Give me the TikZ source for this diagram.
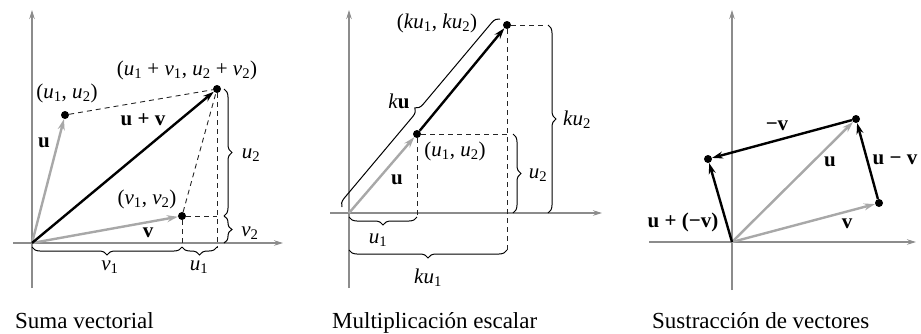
\documentclass[tikz,border=0pt]{standalone}
\usepackage{fontspec}
\setmainfont{Liberation Serif}
\usetikzlibrary{arrows.meta,decorations.pathreplacing}
\definecolor{axisgray}{RGB}{140,140,140}
\definecolor{vecgray}{RGB}{168,168,168}
\newcommand\su[2]{\textit{#1}\textsubscript{#2}}
\tikzset{
  axis/.style={draw=axisgray,line width=1.1pt,-{Stealth[length=9pt,width=5.5pt]}},
  vecg/.style={draw=vecgray,line width=2.4pt,-{Stealth[length=11pt,width=7pt]}},
  vecb/.style={draw=black,line width=2.4pt,-{Stealth[length=11pt,width=7pt]}},
  dot/.style={circle,fill=black,inner sep=0pt,minimum size=8pt},
  dsh/.style={draw=black!85,line width=0.9pt,dash pattern=on 5pt off 4pt},
  brc/.style={draw=black,line width=1pt,decorate,decoration={brace,amplitude=8pt}},
  brcm/.style={draw=black,line width=1pt,decorate,decoration={brace,amplitude=8pt,mirror}},
  lbl/.style={inner sep=0pt,font=\fontsize{21}{24}\selectfont},
  captxt/.style={inner sep=0pt,anchor=base west,font=\fontsize{23}{26}\selectfont}
}
\begin{document}
\begin{tikzpicture}[x=1pt,y=-1pt]
\useasboundingbox (0,0) rectangle (921,333);
% ---------------- Panel 1 ----------------
\coordinate (O1) at (32,243);
\coordinate (A1b) at (32,288); \coordinate (A1t) at (32,10);
\coordinate (X1l) at (13,243); \coordinate (X1r) at (283,243);
\draw[axis] (A1b) -- (A1t);
\draw[axis] (X1l) -- (X1r);
\node[dot] (U1) at (65,115) {};
\node[dot] (V1) at (182,216) {};
\node[dot] (S1) at (217,89) {};
\coordinate (S1x) at (217,248);
\coordinate (V1x) at (182,248);
\coordinate (V1r) at (217,216);
\draw[dsh] (U1) -- (S1);
\draw[dsh] (V1) -- (S1);
\draw[dsh] (S1) -- (S1x);
\draw[dsh] (V1) -- (V1r);
\draw[dsh] (V1) -- (V1x);
\draw[vecg] (O1) -- (U1);
\draw[vecg] (O1) -- (V1);
\draw[vecb] (O1) -- (S1);
\coordinate (b1a) at (224,89); \coordinate (b1b) at (224,216); \coordinate (b1c) at (224,243);
\draw[brc] (b1a) -- (b1b);
\draw[brc] (b1b) -- (b1c);
\coordinate (b1d) at (32,247); \coordinate (b1e) at (182,247); \coordinate (b1f) at (217,247);
\draw[brcm] (b1d) -- (b1e);
\draw[brcm] (b1e) -- (b1f);
\node[lbl] (l1s) at (187,70) {(\su{u}{1} + \su{v}{1}, \su{u}{2} + \su{v}{2})};
\node[lbl] (l1u) at (67,93) {(\su{u}{1}, \su{u}{2})};
\node[lbl] (l1uv) at (143,120) {\textbf{u + v}};
\node[lbl] (l1ub) at (44,143) {\textbf{u}};
\node[lbl] (l1v) at (147,199) {(\su{v}{1}, \su{v}{2})};
\node[lbl] (l1vb) at (148,233) {\textbf{v}};
\node[lbl] (l1v1) at (110,267) {\su{v}{1}};
\node[lbl] (l1u1) at (199,267) {\su{u}{1}};
\node[lbl] (l1u2) at (251,155) {\su{u}{2}};
\node[lbl] (l1v2) at (250,233) {\su{v}{2}};
\node[captxt] (c1) at (15,328) {Suma vectorial};
% ---------------- Panel 2 ----------------
\coordinate (O2) at (349,213);
\coordinate (A2b) at (349,288); \coordinate (A2t) at (349,10);
\coordinate (X2l) at (330,213); \coordinate (X2r) at (602,213);
\draw[axis] (A2b) -- (A2t);
\draw[axis] (X2l) -- (X2r);
\node[dot] (U2) at (417,134) {};
\node[dot] (K2) at (507,25) {};
\coordinate (U2r) at (510,134);
\coordinate (U2d) at (417,218);
\coordinate (K2r) at (545,25);
\coordinate (K2d) at (507,250);
\draw[dsh] (U2) -- (U2r);
\draw[dsh] (U2) -- (U2d);
\draw[dsh] (K2) -- (K2r);
\draw[dsh] (K2) -- (K2d);
\draw[vecg] (O2) -- (U2);
\draw[vecb] (U2) -- (K2);
\coordinate (b2a) at (342,207); \coordinate (b2b) at (500,19);
\draw[brc] (b2a) -- (b2b);
\coordinate (b2c) at (513,134); \coordinate (b2d) at (513,213);
\draw[brc] (b2c) -- (b2d);
\coordinate (b2e) at (548,25); \coordinate (b2f) at (548,213);
\draw[brc] (b2e) -- (b2f);
\coordinate (b2g) at (349,217); \coordinate (b2h) at (417,217);
\draw[brcm] (b2g) -- (b2h);
\coordinate (b2i) at (349,250); \coordinate (b2j) at (507,250);
\draw[brcm] (b2i) -- (b2j);
\node[lbl] (l2k) at (437,23) {(\textit{k}\su{u}{1}, \textit{k}\su{u}{2})};
\node[lbl] (l2ku) at (399,101) {\textit{k}\textbf{u}};
\node[lbl] (l2u) at (455,151) {(\su{u}{1}, \su{u}{2})};
\node[lbl] (l2ub) at (397,180) {\textbf{u}};
\node[lbl] (l2u2) at (538,175) {\su{u}{2}};
\node[lbl] (l2ku2) at (577,120) {\textit{k}\su{u}{2}};
\node[lbl] (l2u1) at (378,240) {\su{u}{1}};
\node[lbl] (l2ku1) at (428,278) {\textit{k}\su{u}{1}};
\node[captxt] (c2) at (332,328) {Multiplicación escalar};
% ---------------- Panel 3 ----------------
\coordinate (O3) at (732,242);
\coordinate (A3b) at (732,290); \coordinate (A3t) at (732,10);
\coordinate (X3l) at (649,242); \coordinate (X3r) at (916,242);
\draw[axis] (A3b) -- (A3t);
\draw[axis] (X3l) -- (X3r);
\node[dot] (U3) at (856,119) {};
\node[dot] (V3) at (879,203) {};
\node[dot] (W3) at (708,159) {};
\draw[vecg] (O3) -- (U3);
\draw[vecg] (O3) -- (V3);
\draw[vecb] (V3) -- (U3);
\draw[vecb] (U3) -- (W3);
\draw[vecb] (O3) -- (W3);
\node[lbl] (l3mv) at (777,126) {\textbf{−v}};
\node[lbl] (l3u) at (830,162) {\textbf{u}};
\node[lbl] (l3umv) at (895,160) {\textbf{u − v}};
\node[lbl] (l3v) at (847,224) {\textbf{v}};
\node[lbl] (l3upv) at (683,222) {\textbf{u + (−v)}};
\node[captxt] (c3) at (652,328) {Sustracción de vectores};
\end{tikzpicture}
\end{document}
